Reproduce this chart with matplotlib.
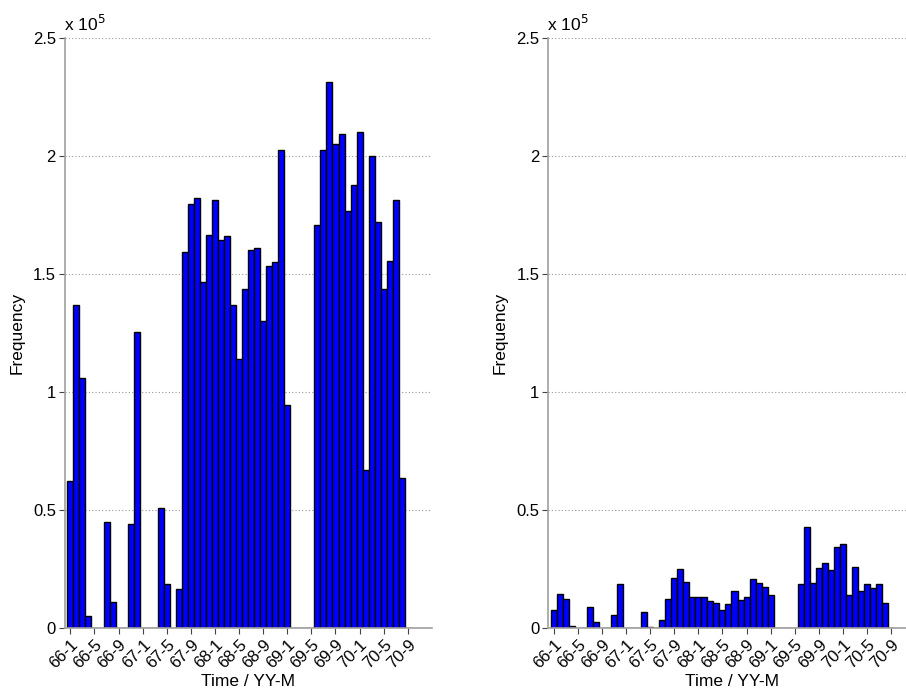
"""
Monthly frequency histograms, Jan 1966 - Sep 1970, shown side by side
on a common 0 - 2.5e5 scale.
"""

import numpy as np
import matplotlib.pyplot as plt

plt.rcParams['font.family'] = ['Liberation Sans', 'DejaVu Sans']

# ─────────────────────────────────────────────────────────────────────────────
# Data: one value per month, 66-1 ... 70-9 (57 months)
# ─────────────────────────────────────────────────────────────────────────────
month_labels = ['66-1', '66-5', '66-9', '67-1', '67-5', '67-9', '68-1', '68-5',
                '68-9', '69-1', '69-5', '69-9', '70-1', '70-5', '70-9']

freq_left = [62300, 137000, 105900, 5000, 0, 0, 44900, 11000, 0, 0,
             44000, 125400, 0, 0, 0, 51000, 18600, 0, 16400, 159200,
             179700, 182200, 146600, 166700, 181400, 164600, 166300, 136700, 114100, 143600,
             160200, 160900, 130100, 153400, 155100, 202400, 94400, 0, 0, 0,
             0, 170600, 202400, 231500, 205200, 209200, 176600, 187600, 210000, 66800,
             200000, 172000, 143600, 155700, 181200, 63600, 0]

freq_right = [7600, 14500, 12400, 800, 0, 0, 8900, 2400, 0, 0,
              5600, 18500, 0, 0, 0, 6600, 400, 0, 3500, 12400,
              21300, 24900, 19600, 13100, 13100, 13200, 11600, 10700, 7800, 10100,
              15500, 12000, 13100, 20900, 19000, 17200, 13800, 0, 0, 0,
              0, 18600, 43000, 19200, 25400, 27500, 24400, 34400, 35800, 13800,
              25700, 15800, 18600, 16800, 18600, 10700, 0]

scale = 1e5
months = np.arange(len(freq_left))
tick_pos = months[::4]

# ─────────────────────────────────────────────────────────────────────────────
# Plotting
# ─────────────────────────────────────────────────────────────────────────────
fig = plt.figure(figsize=(9.06, 6.92), dpi=100)
ax_left = fig.add_axes([0.0717, 0.0925, 0.405, 0.8526])
ax_right = fig.add_axes([0.6052, 0.0925, 0.405, 0.8526])

for ax, freq in [(ax_left, freq_left), (ax_right, freq_right)]:
    ax.bar(months, np.array(freq) / scale, width=1.0, color='#0000ff',
           edgecolor='black', linewidth=1.0, zorder=3)

    ax.set_xlim(-0.9, 60.0)
    ax.set_ylim(0, 2.5)
    ax.set_yticks([0, 0.5, 1, 1.5, 2, 2.5])
    ax.set_yticklabels(['0', '0.5', '1', '1.5', '2', '2.5'], fontsize=12)
    ax.set_xticks(tick_pos)
    ax.set_xticklabels(month_labels, rotation=45, ha='right', va='top',
                       rotation_mode='anchor', fontsize=12)

    ax.yaxis.grid(True, linestyle=(0, (1, 2)), color='#999999', linewidth=0.8, zorder=0)
    for side in ['top', 'right']:
        ax.spines[side].set_visible(False)
    for side in ['left', 'bottom']:
        ax.spines[side].set_color('#a0a0a0')
        ax.spines[side].set_linewidth(1.2)
        ax.spines[side].set_zorder(4)
    ax.tick_params(direction='out', length=4.5, width=0.8, color='#444444', pad=2)

    ax.text(-0.003, 1.006, r'x 10$^{5}$', transform=ax.transAxes, fontsize=12.5,
            ha='left', va='bottom')
    ax.set_ylabel('Frequency', fontsize=12.5, labelpad=6)
    ax.set_xlabel('Time / YY-M', fontsize=12.5, labelpad=2)

fig.savefig('out.png', dpi=100)
